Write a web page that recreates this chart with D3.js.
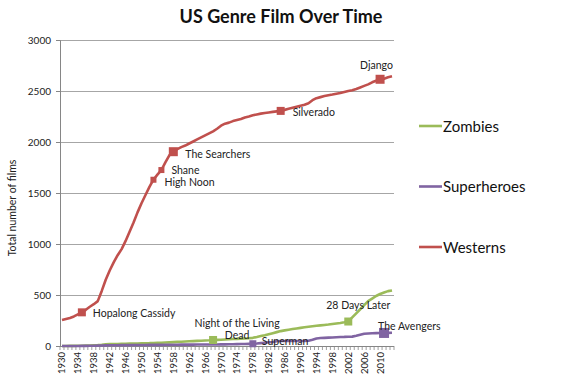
<!DOCTYPE html>
<html><head><meta charset="utf-8">
<script src="https://cdn.jsdelivr.net/npm/d3@7"></script>
<style>body{margin:0;background:#fff}svg{display:block}text{font-family:Lato,"Open Sans",sans-serif}</style>
</head><body><svg id="c" width="570" height="377"></svg>
<script>
const years = d3.range(1930, 2014);
const westerns = [255,265,275,290,310,330,355,385,410,440,540,650,740,820,890,950,1030,1120,1210,1310,1400,1480,1560,1630,1680,1725,1800,1870,1905,1930,1950,1965,1985,2005,2025,2045,2065,2085,2105,2130,2160,2180,2190,2205,2215,2225,2240,2250,2262,2270,2278,2285,2290,2295,2300,2305,2315,2325,2335,2345,2355,2365,2380,2410,2430,2440,2450,2458,2465,2473,2480,2490,2500,2508,2520,2535,2550,2565,2585,2600,2615,2620,2635,2645];
const zombies = [0,0,1,1,2,3,4,5,7,9,12,16,18,19,20,21,22,23,24,25,26,27,28,30,31,32,34,36,38,40,42,44,46,48,50,52,54,56,59,60,62,64,66,68,70,72,74,76,80,88,97,106,116,126,136,146,153,160,166,172,178,183,188,193,198,202,206,210,215,220,225,232,240,280,320,360,400,440,465,490,510,525,538,545];
const heroes = [0,0,0,0,0,1,1,2,3,4,5,6,7,8,8,9,9,9,10,10,10,10,11,11,11,11,12,12,12,12,13,13,13,13,14,14,14,15,15,15,16,16,17,17,18,19,20,21,22,24,28,32,36,40,46,49,49,49,49,49,49,50,52,62,74,78,80,82,84,86,88,89,91,92,100,110,120,123,125,126,127,128,129,130];
const seriesNames = ["Zombies","Superheroes","Westerns"];
const yTicks = [0,500,1000,1500,2000,2500,3000];
const xLabelYears = d3.range(1930, 2014, 4);
const annoWesterns = [["Hopalong Cassidy",1935],["High Noon",1953],["Shane",1955],["The Searchers",1958],["Silverado",1985],["Django",2010]];
const annoZombies = [["Night of the Living|Dead",1968],["28 Days Later",2002]];
const annoHeroes = [["Superman",1978],["The Avengers",2011]];

const colors = {Zombies:"#9bbb59", Superheroes:"#8064a2", Westerns:"#c0504d"};
const svg = d3.select("#c");
const L=60, R=394, T=40, B=346;
const x = d3.scaleBand().domain(years).range([L,R]);
const xc = yr => x(yr) + x.bandwidth()/2;
const y = d3.scaleLinear().domain([0,3000]).range([B,T]);

// gridlines
svg.append("g").selectAll("line").data(yTicks.filter(d=>d>0)).join("line")
  .attr("x1",L).attr("x2",R).attr("y1",d=>y(d)).attr("y2",d=>y(d))
  .attr("stroke","#a6a6a6").attr("stroke-width",1).attr("shape-rendering","crispEdges");

// y axis
const ya = svg.append("g").attr("transform",`translate(${L},0)`)
  .call(d3.axisLeft(y).tickValues(yTicks).tickFormat(d3.format("d")).tickSize(4).tickPadding(5));
ya.select(".domain").attr("stroke","#868686");
ya.selectAll(".tick line").attr("stroke","#868686");
ya.selectAll("text").attr("font-size",10).attr("fill","#222").style("font-family","Lato");

// x axis: minor ticks at category boundaries
const xa = svg.append("g");
xa.append("line").attr("x1",L).attr("x2",R).attr("y1",B).attr("y2",B).attr("stroke","#868686").attr("shape-rendering","crispEdges");
xa.selectAll("line.t").data(years.concat([null])).join("line").attr("class","t")
  .attr("x1",d=>d===null?R:x(d)).attr("x2",d=>d===null?R:x(d)).attr("y1",B).attr("y2",B+4)
  .attr("stroke","#868686").attr("stroke-width",0.8);
xa.selectAll("text").data(xLabelYears).join("text")
  .attr("transform",d=>`translate(${xc(d)+3.5},${B+6}) rotate(-90)`)
  .attr("text-anchor","end").attr("font-size",9.5).attr("fill","#222").text(d=>d);

// y title
svg.append("text").attr("transform",`translate(16,208) rotate(-90)`).attr("text-anchor","middle")
  .attr("font-size",10.5).attr("fill","#222").text("Total number of films");

// title
svg.append("text").attr("x",281).attr("y",23).attr("text-anchor","middle")
  .attr("font-size",18).attr("font-weight","bold").attr("fill","#111").text("US Genre Film Over Time");

const line = d3.line().x((d,i)=>xc(years[i])).y(d=>y(d)).curve(d3.curveLinear);
const data = {Zombies:zombies, Superheroes:heroes, Westerns:westerns};
["Zombies","Superheroes","Westerns"].forEach(n=>{
  svg.append("path").datum(data[n]).attr("d",line).attr("fill","none")
    .attr("stroke",colors[n]).attr("stroke-width",2.6).attr("stroke-linejoin","round");
});

// markers & annotations
const markerSize = {"Hopalong Cassidy":8,"High Noon":6,"Shane":6,"The Searchers":9,"Silverado":8,"Django":9,
  "Night of the Living|Dead":8,"28 Days Later":8,"Superman":7,"The Avengers":10};
const labelOff = {"Hopalong Cassidy":[11,5],"High Noon":[11,6],"Shane":[10,4],"The Searchers":[12,6],"Silverado":[12,5],"Django":[-20,-10],
  "Night of the Living|Dead":[-16,-13],"28 Days Later":[-22,-13],"Superman":[9,1],"The Avengers":[-6,-3]};
function annotate(list, series, n){
  list.forEach(([lab,yr])=>{
    const i = years.indexOf(yr), cx = xc(yr), cy = y(series[i]), s = markerSize[lab];
    svg.append("rect").attr("x",cx-s/2).attr("y",cy-s/2).attr("width",s).attr("height",s).attr("fill",colors[n]);
    const [dx,dy] = labelOff[lab];
    const t = svg.append("text").attr("x",cx+dx).attr("y",cy+dy).attr("font-size",10.5).attr("fill","#222");
    const parts = lab.split("|");
    if(parts.length>1){
      t.attr("text-anchor","middle").attr("x",cx+dx+40);
      parts.forEach((p,k)=>t.append("tspan").attr("x",cx+dx+40).attr("dy",k?12:0).text(p));
    } else t.text(lab);
  });
}
annotate(annoWesterns, westerns, "Westerns");
annotate(annoZombies, zombies, "Zombies");
annotate(annoHeroes, heroes, "Superheroes");

// legend
const lg = svg.append("g").selectAll("g").data(seriesNames).join("g")
  .attr("transform",(d,i)=>`translate(419,${126+i*60.5})`);
lg.append("line").attr("x1",0).attr("x2",23).attr("stroke",d=>colors[d]).attr("stroke-width",2.6);
lg.append("text").attr("x",24).attr("y",5.5).attr("font-size",15).attr("fill","#111").text(d=>d);
</script></body></html>
